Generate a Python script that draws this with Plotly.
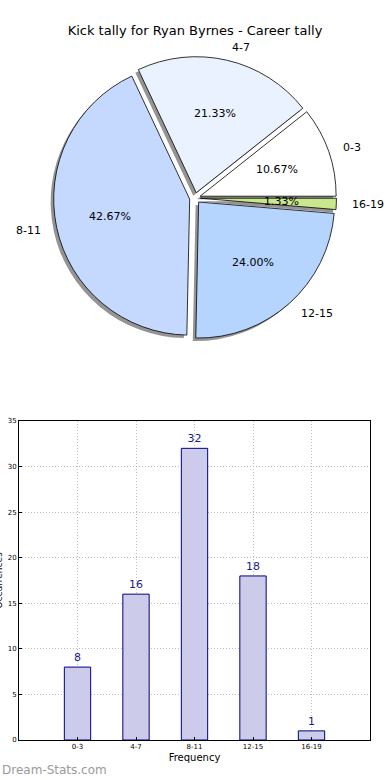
import math
import plotly.graph_objects as go

# ---------------- data ----------------
categories = ["0-3", "4-7", "8-11", "12-15", "16-19"]
counts = [8, 16, 32, 18, 1]
pie_colors = ["#ffffff", "#eaf2ff", "#c5d9ff", "#b5d5ff", "#c9e78c"]
title_text = "Kick tally for Ryan Byrnes - Career tally"
bar_xlabel = "Frequency"
bar_ylabel = "Occurrences"
y_ticks = [0, 5, 10, 15, 20, 25, 30, 35]
watermark = "Dream-Stats.com"

# ---------------- geometry (pixels) ----------------
W, H = 390, 780
PULL = 0.04
R = 136                      # pie radius in px
CX, CY = 195, 198            # pie centre in px
HALF = R * (1 + PULL)        # half size of pie box
SHX, SHY = -3, 3             # shadow offset


def px_dom_x(a, b):
    return [a / W, b / W]


def px_dom_y(top, bottom):
    return [1 - bottom / H, 1 - top / H]


pie_dx = px_dom_x(CX - HALF, CX + HALF)
pie_dy = px_dom_y(CY - HALF, CY + HALF)
sh_dx = px_dom_x(CX + SHX - HALF, CX + SHX + HALF)
sh_dy = px_dom_y(CY + SHY - HALF, CY + SHY + HALF)

total = sum(counts)
# first slice starts at 3 o'clock and runs counter-clockwise (plotly's ccw rotation
# marks where the first slice ends, measured clockwise from 12 o'clock)
rotation = 90 - 360.0 * counts[0] / total

fig = go.Figure()

# shadow pie
fig.add_trace(go.Pie(
    labels=categories, values=counts, sort=False, direction="counterclockwise",
    rotation=rotation, pull=[PULL] * len(counts),
    marker=dict(colors=["rgba(60,60,60,0.55)"] * len(counts), line=dict(width=0)),
    textinfo="none", hoverinfo="skip", showlegend=False,
    domain=dict(x=sh_dx, y=sh_dy),
))
# main pie
fig.add_trace(go.Pie(
    labels=categories, values=counts, sort=False, direction="counterclockwise",
    rotation=rotation, pull=[PULL] * len(counts),
    marker=dict(colors=pie_colors, line=dict(color="#000000", width=0.8)),
    textinfo="none", showlegend=False,
    domain=dict(x=pie_dx, y=pie_dy),
))


def pie_to_paper(u, v):
    """pie units (radius = 1) -> paper fractions"""
    return (CX + u * R) / W, 1 - (CY - v * R) / H


# label positions computed from the data (labels at 1.1R, percentages at 0.6R)
annotations = []
cum = 0
for name, v in zip(categories, counts):
    theta = 2 * math.pi * (cum + v / 2) / total
    cum += v
    c, s = math.cos(theta), math.sin(theta)
    ox, oy = PULL * c, PULL * s
    lx, ly = pie_to_paper(ox + 1.1 * c, oy + 1.1 * s)
    annotations.append(dict(
        text=name, xref="paper", yref="paper", x=lx, y=ly,
        xanchor="left" if c > 0 else "right", yanchor="middle", showarrow=False,
        font=dict(family="DejaVu Sans", size=11, color="#000000")))
    px_, py_ = pie_to_paper(ox + 0.6 * c, oy + 0.6 * s)
    annotations.append(dict(
        text="%.2f%%" % (100.0 * v / total), xref="paper", yref="paper",
        x=px_, y=py_, xanchor="center", yanchor="middle",
        showarrow=False, font=dict(family="DejaVu Sans", size=11, color="#000000")))

# ---------------- bar chart ----------------
fig.add_trace(go.Bar(
    x=categories, y=counts, width=0.45,
    marker=dict(color="#ccccea", line=dict(color="#000080", width=1)),
    text=[str(v) for v in counts], textposition="outside",
    textfont=dict(family="DejaVu Sans", size=11, color="#1a1a8c"),
    cliponaxis=False, showlegend=False, xaxis="x", yaxis="y",
))

bar_dx = px_dom_x(19, 370)
bar_dy = px_dom_y(421, 740)

annotations += [
    dict(text=bar_ylabel, textangle=-90, xref="paper", yref="paper",
         x=0, xanchor="right", xshift=5, y=(bar_dy[0] + bar_dy[1]) / 2,
         yanchor="middle", showarrow=False, font=dict(size=9)),
    dict(text=watermark, xref="paper", yref="paper", x=0, xanchor="left",
         y=1 - 770 / H, yanchor="middle", showarrow=False,
         font=dict(size=12, color="#9a9a9a", family="DejaVu Sans")),
]

grid = dict(showgrid=True, gridcolor="#bdbdbd", griddash="1px,2px", gridwidth=1)
fig.update_layout(
    width=W, height=H,
    margin=dict(l=0, r=0, t=0, b=0),
    paper_bgcolor="white", plot_bgcolor="white",
    font=dict(family="DejaVu Sans", color="#000000"),
    title=dict(text=title_text, x=0.5, xanchor="center", y=1 - 30 / H, yanchor="middle",
               font=dict(family="DejaVu Sans", size=13, color="#000000")),
    xaxis=dict(domain=bar_dx, range=[-1, 5], type="category", automargin=False,
               showline=True, mirror=True, linecolor="#000000", linewidth=1,
               ticks="inside", ticklen=3, tickcolor="#000000",
               tickfont=dict(size=7, family="DejaVu Sans"), zeroline=False,
               title=dict(text=bar_xlabel, font=dict(size=10), standoff=3), **grid),
    yaxis=dict(domain=bar_dy, range=[0, 35], tickvals=y_ticks, automargin=False,
               showline=True, mirror=True, linecolor="#000000", linewidth=1,
               ticks="inside", ticklen=3, tickcolor="#000000",
               tickfont=dict(size=7, family="DejaVu Sans"), zeroline=False, **grid),
    annotations=annotations,
)

fig.write_html("out.html", post_script="document.body.style.margin='0';",
               config={"displayModeBar": False})
